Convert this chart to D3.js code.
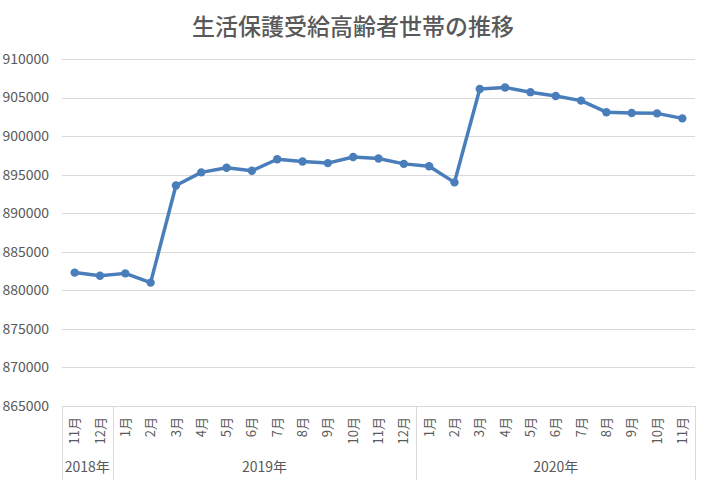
<!DOCTYPE html>
<meta charset="utf-8">
<style>
    body { margin: 0; background: #fff; }
    svg { font-family: "Noto Sans CJK JP", "Noto Sans", sans-serif; }
    .grid line { stroke: #d9d9d9; stroke-width: 1px; }
    .ylab text { font-size: 14px; fill: #595959; }
    .mon text { font-size: 13px; fill: #595959; }
    .yr text { font-size: 14px; fill: #595959; }
    .frame { stroke: #d9d9d9; stroke-width: 1px; fill: none; }
    .line { fill: none; stroke: #4a7ebb; stroke-width: 3.5px; stroke-linejoin: round; }
    .dot { fill: #4a7ebb; }
    .title { font-size: 23px; fill: #595959; font-weight: 500; }
</style>
<svg width="707" height="480"></svg>
<script src="https://cdn.jsdelivr.net/npm/d3@7"></script>
<script>

    var months = ["11月", "12月",
        "1月", "2月", "3月", "4月", "5月", "6月", "7月", "8月", "9月", "10月", "11月", "12月",
        "1月", "2月", "3月", "4月", "5月", "6月", "7月", "8月", "9月", "10月", "11月"];

    var years = ["2018年", "2019年", "2020年"];
    var yearCounts = [2, 12, 11];

    var values = [882300, 881900,
        882200, 881000, 893600, 895300, 895900, 895500, 897000, 896700, 896500, 897300, 897100, 896400,
        896100, 894000, 906100, 906300, 905700, 905200, 904600, 903100, 903000, 902950, 902300];

    var yTicks = [865000, 870000, 875000, 880000, 885000, 890000, 895000, 900000, 905000, 910000];

    var svg = d3.select("svg"),
        plotL = 62, plotR = 695, plotT = 59, plotB = 406;

    var x = d3.scaleBand()
        .domain(d3.range(months.length))
        .range([plotL, plotR])
        .padding(0);

    var y = d3.scaleLinear()
        .domain([865000, 910000])
        .range([plotB, plotT]);

    svg.append("text")
        .attr("class", "title")
        .attr("x", 353)
        .attr("y", 35)
        .attr("text-anchor", "middle")
        .text("生活保護受給高齢者世帯の推移");

    // gridlines
    svg.append("g")
        .attr("class", "grid")
        .selectAll("line")
        .data(yTicks)
        .enter().append("line")
        .attr("x1", plotL)
        .attr("x2", plotR)
        .attr("y1", function (d) { return Math.round(y(d)) + 0.5; })
        .attr("y2", function (d) { return Math.round(y(d)) + 0.5; });

    svg.append("g")
        .attr("class", "ylab")
        .selectAll("text")
        .data(yTicks)
        .enter().append("text")
        .attr("x", 49)
        .attr("y", function (d) { return y(d); })
        .attr("dy", "0.35em")
        .attr("text-anchor", "end")
        .text(function (d) { return d; });

    // category axis: month labels
    svg.append("g")
        .attr("class", "mon")
        .selectAll("text")
        .data(months)
        .enter().append("text")
        .attr("transform", function (d, i) {
            return "translate(" + (x(i) + x.bandwidth() / 2) + ",417) rotate(-90)";
        })
        .attr("dy", "0.35em")
        .attr("text-anchor", "end")
        .text(function (d) { return d; });

    // year groups
    var starts = [0];
    yearCounts.forEach(function (c, i) { starts.push(starts[i] + c); });

    var bounds = starts.map(function (s) {
        return s < months.length ? x(s) : plotR;
    });

    svg.append("g")
        .selectAll("line")
        .data(bounds)
        .enter().append("line")
        .attr("class", "frame")
        .attr("x1", function (d) { return Math.round(d) + 0.5; })
        .attr("x2", function (d) { return Math.round(d) + 0.5; })
        .attr("y1", plotB)
        .attr("y2", 480);

    svg.append("g")
        .attr("class", "yr")
        .selectAll("text")
        .data(years)
        .enter().append("text")
        .attr("x", function (d, i) { return (bounds[i] + bounds[i + 1]) / 2; })
        .attr("y", 467)
        .attr("dy", "0.35em")
        .attr("text-anchor", "middle")
        .text(function (d) { return d; });

    var line = d3.line()
        .x(function (d, i) { return x(i) + x.bandwidth() / 2; })
        .y(function (d) { return y(d); });

    svg.append("path")
        .datum(values)
        .attr("class", "line")
        .attr("d", line);

    svg.append("g")
        .selectAll("circle")
        .data(values)
        .enter().append("circle")
        .attr("class", "dot")
        .attr("r", 4.2)
        .attr("cx", function (d, i) { return x(i) + x.bandwidth() / 2; })
        .attr("cy", function (d) { return y(d); });

</script>
